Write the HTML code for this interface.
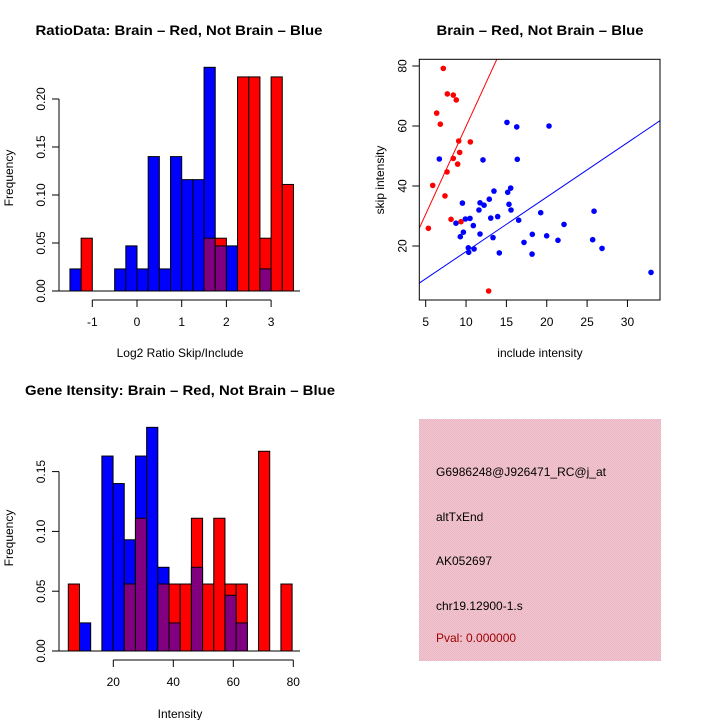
<!DOCTYPE html>
<html><head><meta charset="utf-8"><style>
body{margin:0;background:#fff}
svg{display:block;font-family:"Liberation Sans",sans-serif}
</style></head><body>
<svg id="c" width="720" height="720" viewBox="0 0 720 720" xmlns="http://www.w3.org/2000/svg">
<defs><pattern id="pk" width="2" height="2" patternUnits="userSpaceOnUse"><rect width="2" height="2" fill="#f4c4cc"/><rect width="1" height="1" fill="#e8b8c8"/><rect x="1" y="1" width="1" height="1" fill="#e8b8c8"/></pattern></defs>
<g id="p1"></g>
<g id="p2"></g>
<g id="p3"></g>
<g id="p4">
<rect x="419" y="419" width="242" height="242" fill="url(#pk)"/>
<text x="436" y="476" font-size="12" textLength="170" lengthAdjust="spacingAndGlyphs">G6986248@J926471_RC@j_at</text>
<text x="436" y="521" font-size="12">altTxEnd</text>
<text x="436" y="565" font-size="12">AK052697</text>
<text x="436" y="610" font-size="12">chr19.12900-1.s</text>
<text x="436" y="642" font-size="12" fill="#a00000">Pval: 0.000000</text>
</g>
</svg>
<script>
const ratioBinStart = -1.5;
const ratioBinWidth = 0.25;
const ratioRed  = [0,0.055,0,0,0,0,0,0,0,0,0,0,0.055,0.055,0,0.223,0.223,0.055,0.223,0.111];
const ratioBlue = [0.023,0,0,0,0.023,0.047,0.023,0.14,0.023,0.14,0.116,0.116,0.233,0.047,0.047,0,0,0.023,0,0];
const ratioXTicks = [-1,0,1,2,3];
const ratioYTicks = ["0.00","0.05","0.10","0.15","0.20"];
const intBinStart = 5;
const intBinWidth = 3.73;
const intRed  = [0.056,0,0,0,0,0.056,0.111,0,0.056,0.056,0.056,0.111,0.056,0.111,0.056,0.056,0,0.167,0,0.056];
const intBlue = [0,0.0235,0,0.163,0.140,0.093,0.163,0.187,0.070,0.0235,0,0.070,0,0,0.0466,0.0235,0,0,0,0];
const intXTicks = [20,40,60,80];
const intYTicks = ["0.00","0.05","0.10","0.15"];
const redInc  = [5.33,5.87,6.36,6.81,7.18,7.39,7.64,7.68,8.14,8.42,8.42,8.79,8.96,9.09,9.21,9.37,10.53,12.8];
const redSkip = [25.9,40.2,64.3,60.6,79.2,36.7,44.7,70.7,28.9,70.3,49.2,68.7,47.3,55,51.2,28.1,54.7,5];
const blueInc  = [6.69,8.75,9.29,9.55,9.67,9.92,10.28,10.33,10.49,10.9,10.99,11.6,11.73,11.73,12.1,12.23,12.88,13.06,13.34,13.46,13.92,14.12,15.07,15.16,15.32,15.53,15.57,16.28,16.35,16.52,17.18,18.21,18.18,19.25,19.99,20.28,21.39,22.14,25.69,25.86,26.85,32.92];
const blueSkip = [49,27.6,23.1,34.3,24.6,29,19.4,17.9,29.2,26.8,19,32,34.4,24,48.7,33.6,35.6,29.3,22.8,38.3,29.8,17.7,61.2,37.9,33.9,39.3,32,59.7,48.9,28.6,21.2,23.9,17.3,31.1,23.4,60,21.9,27.2,22.1,31.6,19.2,11.2];
const redFit = [1.3,5.86];
const blueFit = [0.0,1.815];
const scXTicks = [5,10,15,20,25,30];
const scYTicks = [20,40,60,80];

const NS="http://www.w3.org/2000/svg";
function mk(parent,tag,attrs,txt){const e=document.createElementNS(NS,tag);for(const k in attrs)e.setAttribute(k,attrs[k]);if(txt!==undefined)e.textContent=txt;parent.appendChild(e);return e;}

function hist(g,o){
  const sx=v=>o.x0+(v-o.v0)*o.kx, sy=v=>o.y0-v*o.ky;
  const n=o.red.length;
  for(let i=0;i<n;i++){
    const a=o.binStart+i*o.binW,b=a+o.binW;
    const x=sx(a),w=sx(b)-x;
    const r=o.red[i],bl=o.blue[i];
    const draw=(v,col,name)=>{if(v<=0)return;const e=mk(g,'rect',{x:x,y:sy(v),width:w,height:sy(0)-sy(v),fill:col,stroke:'#000','stroke-width':1});
      
      };
    if(r>=bl){draw(r,'#ff0000','bar-red-'+i);draw(bl,'#800080','bar-overlap-'+i);}
    else{draw(bl,'#0000ff','bar-blue-'+i);draw(r,'#800080','bar-overlap-'+i);}
  }
  const base=mk(g,'line',{x1:o.yAxisX,x2:300,y1:sy(0),y2:sy(0),stroke:'#000'});
  
  
  const yt=o.yTicks.map(Number);
  const ya=mk(g,'line',{x1:o.yAxisX,x2:o.yAxisX,y1:sy(yt[0]),y2:sy(yt[yt.length-1]),stroke:'#000'});
  
  
  o.yTicks.forEach(t=>{const y=sy(+t);mk(g,'line',{x1:o.yAxisX-7,x2:o.yAxisX,y1:y,y2:y,stroke:'#000'});
    const tx=mk(g,'text',{x:0,y:0,'font-size':12,'text-anchor':'middle',transform:`translate(${o.yAxisX-14},${y}) rotate(-90)`},t);
    
    });
  const xt=o.xTicks;
  const xa=mk(g,'line',{x1:sx(xt[0]),x2:sx(xt[xt.length-1]),y1:o.xAxisY,y2:o.xAxisY,stroke:'#000'});
  
  
  xt.forEach(t=>{const x=sx(t);mk(g,'line',{x1:x,x2:x,y1:o.xAxisY,y2:o.xAxisY+7,stroke:'#000'});
    const tx=mk(g,'text',{x:x,y:o.xAxisY+26,'font-size':12,'text-anchor':'middle'},t);
    
    });
}

const p1=document.getElementById('p1');
hist(p1,{x0:137,v0:0,kx:44.7,y0:291,ky:960,binStart:ratioBinStart,binW:ratioBinWidth,red:ratioRed,blue:ratioBlue,yTicks:ratioYTicks,xTicks:ratioXTicks,yAxisX:59,xAxisY:300});
let t=mk(p1,'text',{x:179,y:35,'font-size':14,'font-weight':'bold','text-anchor':'middle',textLength:287,lengthAdjust:'spacingAndGlyphs'},'RatioData: Brain – Red, Not Brain – Blue');


t=mk(p1,'text',{x:180,y:357,'font-size':12,'text-anchor':'middle'},'Log2 Ratio Skip/Include');


t=mk(p1,'text',{x:0,y:0,'font-size':12,'text-anchor':'middle',transform:'translate(13,178) rotate(-90)'},'Frequency');



const p3=document.getElementById('p3');
hist(p3,{x0:113.3,v0:20,kx:3.0,y0:651,ky:1196,binStart:intBinStart,binW:intBinWidth,red:intRed,blue:intBlue,yTicks:intYTicks,xTicks:intXTicks,yAxisX:59,xAxisY:660});
t=mk(p3,'text',{x:180,y:395,'font-size':14,'font-weight':'bold','text-anchor':'middle',textLength:310,lengthAdjust:'spacingAndGlyphs'},'Gene Itensity: Brain – Red, Not Brain – Blue');


t=mk(p3,'text',{x:180,y:718,'font-size':12,'text-anchor':'middle'},'Intensity');


t=mk(p3,'text',{x:0,y:0,'font-size':12,'text-anchor':'middle',transform:'translate(13,538) rotate(-90)'},'Frequency');



const p2=document.getElementById('p2');
const L=419.3,R=660,T=59.3,B=300;
const sx=v=>425.7+(v-5)*8.07, sy=v=>306-3*v;
const vx=v=>(v-425.7)/8.07+5;
const cp=mk(p2,'clipPath',{id:'scclip'});mk(cp,'rect',{x:L,y:T,width:R-L,height:B-T});
[[redFit,'#ff0000','red-fit-line'],[blueFit,'#0000ff','blue-fit-line']].forEach(([f,c,n])=>{
  const a=vx(L),b=vx(R);
  const ln=mk(p2,'line',{x1:sx(a),y1:sy(f[0]+f[1]*a),x2:sx(b),y2:sy(f[0]+f[1]*b),stroke:c,'clip-path':'url(#scclip)'});
  
  
});
redInc.forEach((v,i)=>{const c=mk(p2,'circle',{cx:sx(v),cy:sy(redSkip[i]),r:2.8,fill:'#ff0000'});
  
  });
blueInc.forEach((v,i)=>{const c=mk(p2,'circle',{cx:sx(v),cy:sy(blueSkip[i]),r:2.8,fill:'#0000ff'});
  
  });
const box=mk(p2,'rect',{x:L,y:T,width:R-L,height:B-T,fill:'none',stroke:'#000'});


scXTicks.forEach(v=>{const x=sx(v);mk(p2,'line',{x1:x,x2:x,y1:B,y2:B+7,stroke:'#000'});
  const tx=mk(p2,'text',{x:x,y:B+26,'font-size':12,'text-anchor':'middle'},v);
  
  });
scYTicks.forEach(v=>{const y=sy(v);mk(p2,'line',{x1:L-7,x2:L,y1:y,y2:y,stroke:'#000'});
  const tx=mk(p2,'text',{x:0,y:0,'font-size':12,'text-anchor':'middle',transform:`translate(${L-13},${y}) rotate(-90)`},v);
  
  });
t=mk(p2,'text',{x:540,y:35,'font-size':14,'font-weight':'bold','text-anchor':'middle',textLength:207,lengthAdjust:'spacingAndGlyphs'},'Brain – Red, Not Brain – Blue');


t=mk(p2,'text',{x:540,y:357,'font-size':12,'text-anchor':'middle'},'include intensity');


t=mk(p2,'text',{x:0,y:0,'font-size':12,'text-anchor':'middle',transform:'translate(384,180) rotate(-90)'},'skip intensity');


</script>
</body></html>
